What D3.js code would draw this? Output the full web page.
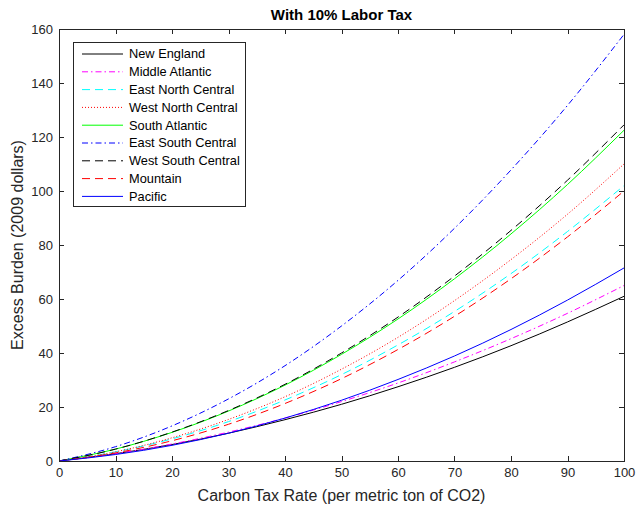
<!DOCTYPE html>
<html><head><meta charset="utf-8">
<script src="https://cdn.jsdelivr.net/npm/d3@7"></script>
<style>body{margin:0;background:#fff}svg{display:block}text{font-family:"Liberation Sans",Arial,sans-serif}</style>
</head><body><svg id="c" width="636" height="512"></svg>
<script>
const taxRates = [0,10,20,30,40,50,60,70,80,90,100];
const seriesNames = ["New England","Middle Atlantic","East North Central","West North Central","South Atlantic","East South Central","West South Central","Mountain","Pacific"];
const newEngland      = [0,2.7,6.1,10.3,15.3,21.0,27.5,34.7,42.7,51.5,61.0];
const middleAtlantic  = [0,2.7,6.3,10.7,15.9,22.0,28.9,36.7,45.3,54.7,65.0];
const eastNorthCentral= [0,3.4,8.2,14.6,22.6,32.0,43.0,55.4,69.4,85.0,102.0];
const westNorthCentral= [0,3.4,8.6,15.4,23.8,34.0,45.8,59.4,74.6,91.4,110.0];
const southAtlantic   = [0,4.4,10.6,18.5,28.1,39.5,52.6,67.5,84.1,102.4,122.5];
const eastSouthCentral= [0,5.3,13.0,23.0,35.3,50.0,66.9,86.2,107.8,131.7,158.0];
const westSouthCentral= [0,4.4,10.7,18.7,28.4,40.0,53.3,68.5,85.4,104.0,124.5];
const mountain        = [0,3.0,7.5,13.6,21.3,30.5,41.3,53.6,67.5,83.0,100.0];
const pacific         = [0,2.4,5.8,10.3,15.9,22.5,30.2,38.9,48.7,59.6,71.5];
const xTicks = [0,10,20,30,40,50,60,70,80,90,100];
const yTicks = [0,20,40,60,80,100,120,140,160];

const values = [newEngland,middleAtlantic,eastNorthCentral,westNorthCentral,southAtlantic,eastSouthCentral,westSouthCentral,mountain,pacific];
const styles = [
  {c:"#000000",d:null},
  {c:"#ff00ff",d:"6,3,1.5,3"},
  {c:"#00ffff",d:"8,5"},
  {c:"#ff0000",d:"1,2"},
  {c:"#00ff00",d:null},
  {c:"#0000ff",d:"6,3,1.5,3"},
  {c:"#000000",d:"8,5"},
  {c:"#ff0000",d:"8,5"},
  {c:"#0000ff",d:null}
];

const L=59,R=624,T=29,B=461;
const svg=d3.select("#c");
const x=d3.scaleLinear().domain([0,100]).range([L,R]);
const y=d3.scaleLinear().domain([0,160]).range([B,T]);
const axCol="#262626";

const tickLen=5;
const gx=svg.append("g").attr("transform",`translate(0,${B})`).call(d3.axisBottom(x).tickValues(xTicks).tickSize(0).tickPadding(7));
const gy=svg.append("g").attr("transform",`translate(${L},0)`).call(d3.axisLeft(y).tickValues(yTicks).tickSize(0).tickPadding(6));
[gx,gy].forEach(g=>{g.select(".domain").remove();g.selectAll("text").attr("fill",axCol).style("font-size","13px").style("font-family","'Liberation Sans',Arial,sans-serif");});

// inward ticks on all four sides
const tk=svg.append("g").attr("stroke",axCol).attr("stroke-width",1);
xTicks.forEach(v=>{const px=Math.round(x(v))+0.5;
  tk.append("line").attr("x1",px).attr("x2",px).attr("y1",B).attr("y2",B-tickLen);
  tk.append("line").attr("x1",px).attr("x2",px).attr("y1",T).attr("y2",T+tickLen);});
yTicks.forEach(v=>{const py=Math.round(y(v))+0.5;
  tk.append("line").attr("x1",L).attr("x2",L+tickLen).attr("y1",py).attr("y2",py);
  tk.append("line").attr("x1",R).attr("x2",R-tickLen).attr("y1",py).attr("y2",py);});

const line=d3.line().x((d,i)=>x(taxRates[i])).y(d=>y(d)).curve(d3.curveMonotoneX);
const plot=svg.append("g");
values.forEach((vals,i)=>{
  plot.append("path").attr("d",line(vals)).attr("fill","none").attr("stroke",styles[i].c)
    .attr("stroke-width",1).attr("stroke-dasharray",styles[i].d);
});

svg.append("rect").attr("x",L+0.5).attr("y",T+0.5).attr("width",R-L).attr("height",B-T)
  .attr("fill","none").attr("stroke",axCol).attr("stroke-width",1);

// legend
const lg=svg.append("g");
lg.append("rect").attr("x",73.5).attr("y",42.5).attr("width",172).attr("height",164).attr("fill","#fff").attr("stroke",axCol);
seriesNames.forEach((n,i)=>{
  const ry=54+i*17.8;
  lg.append("line").attr("x1",82).attr("x2",123).attr("y1",ry).attr("y2",ry).attr("stroke",styles[i].c).attr("stroke-width",1).attr("stroke-dasharray",styles[i].d);
  lg.append("text").attr("x",129).attr("y",ry).attr("dy","0.35em").attr("fill","#000").style("font-size","12.8px").text(n);
});

svg.append("text").attr("x",(L+R)/2).attr("y",20).attr("text-anchor","middle").style("font-size","15px").style("font-weight","bold").attr("fill","#000").text("With 10% Labor Tax");
svg.append("text").attr("x",(L+R)/2).attr("y",501).attr("text-anchor","middle").style("font-size","16px").attr("fill",axCol).text("Carbon Tax Rate (per metric ton of CO2)");
svg.append("text").attr("transform",`translate(23,${(T+B)/2}) rotate(-90)`).attr("text-anchor","middle").style("font-size","16px").attr("fill",axCol).text("Excess Burden (2009 dollars)");
</script></body></html>
